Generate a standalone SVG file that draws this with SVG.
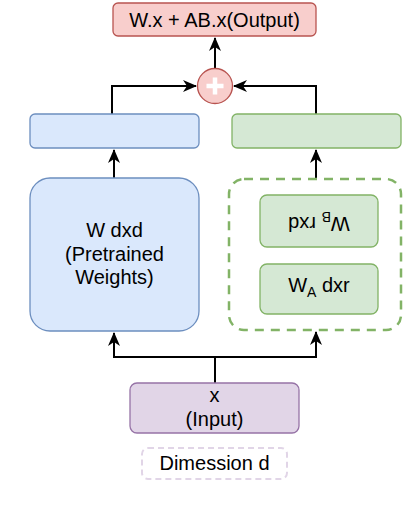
<svg xmlns="http://www.w3.org/2000/svg" width="406" height="514" viewBox="0 0 406 514">
<defs>
<marker id="arr" viewBox="0 0 14 12" refX="13" refY="6" markerWidth="14" markerHeight="12" markerUnits="userSpaceOnUse" orient="auto">
<path d="M0,0 L14,6 L0,12 L4,6 Z" fill="#000"/>
</marker>
</defs>
<style>
text{font-family:"Liberation Sans",Arial,sans-serif;font-size:20px;fill:#000;text-anchor:middle}
.conn{fill:none;stroke:#000;stroke-width:2}
</style>
<rect width="406" height="514" fill="#fff"/>
<g id="connectors">
<path class="conn" d="M215,69 L215,38" marker-end="url(#arr)"/>
<path class="conn" d="M112,114 L112,86 L196,86" marker-end="url(#arr)"/>
<path class="conn" d="M316,114 L316,86 L234,86" marker-end="url(#arr)"/>
<path class="conn" d="M114,178 L114,150" marker-end="url(#arr)"/>
<path class="conn" d="M316,179 L316,150" marker-end="url(#arr)"/>
<path class="conn" d="M215,383 L215,357 L114,357 L114,333" marker-end="url(#arr)"/>
<path class="conn" d="M215,357 L316,357 L316,332" marker-end="url(#arr)"/>
</g>
<g id="output">
<rect x="113" y="3" width="203" height="33" rx="5" fill="#f8cecc" stroke="#b85450" stroke-width="1.3"/>
<text x="214.5" y="27">W.x + AB.x(Output)</text>
</g>
<g id="plus">
<circle cx="215" cy="86" r="17.5" fill="#f8cecc" stroke="#b85450" stroke-width="1.3"/>
<path d="M215,77.5 L215,94.5 M206.5,86 L223.5,86" stroke="#fff" stroke-width="4.5"/>
</g>
<g id="blue-out">
<rect x="30" y="114" width="169" height="34" rx="5" fill="#dae8fc" stroke="#6c8ebf" stroke-width="1.3"/>
</g>
<g id="green-out">
<rect x="232" y="114" width="169" height="34" rx="5" fill="#d5e8d4" stroke="#82b366" stroke-width="1.3"/>
</g>
<g id="pretrained">
<rect x="30" y="178" width="169" height="153" rx="20" fill="#dae8fc" stroke="#6c8ebf" stroke-width="1.3"/>
<text x="114.5" y="237">W dxd</text>
<text x="114.5" y="261">(Pretrained</text>
<text x="114.5" y="284">Weights)</text>
</g>
<g id="lora">
<rect x="229" y="179" width="172" height="151" rx="15" fill="none" stroke="#82b366" stroke-width="2.5" stroke-dasharray="9,7"/>
</g>
<g id="wb">
<rect x="260" y="195" width="118" height="52" rx="7" fill="#d5e8d4" stroke="#82b366" stroke-width="1.3"/>
<text x="319" y="225" transform="rotate(180 319 221)">W<tspan font-size="14" dy="5">B</tspan><tspan dy="-5"> rxd</tspan></text>
</g>
<g id="wa">
<rect x="260" y="264" width="118" height="50" rx="7" fill="#d5e8d4" stroke="#82b366" stroke-width="1.3"/>
<text x="319" y="292">W<tspan font-size="14" dy="5">A</tspan><tspan dy="-5"> dxr</tspan></text>
</g>
<g id="input">
<rect x="130" y="383" width="169" height="50" rx="7" fill="#e1d5e7" stroke="#9673a6" stroke-width="1.3"/>
<text x="214.5" y="402">x</text>
<text x="214.5" y="426">(Input)</text>
</g>
<g id="dim">
<rect x="142" y="448" width="145" height="31" rx="6" fill="none" stroke="#e1d5e7" stroke-width="2" stroke-dasharray="6,4"/>
<text x="214.5" y="470">Dimession d</text>
</g>
</svg>
